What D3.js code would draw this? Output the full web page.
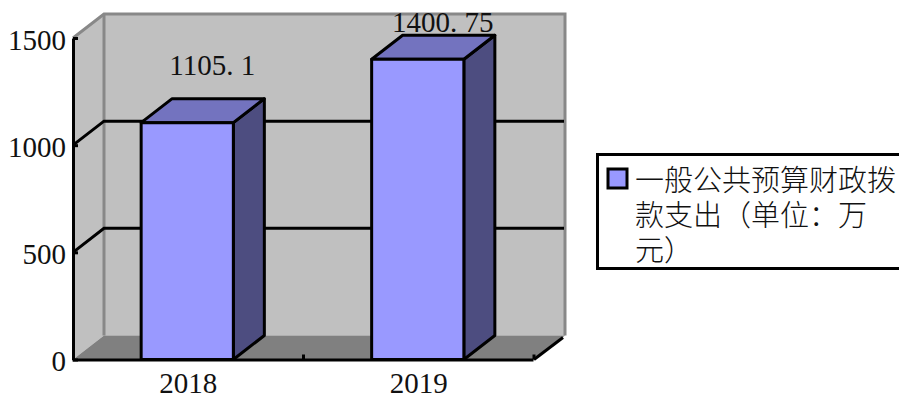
<!DOCTYPE html>
<html>
<head>
<meta charset="utf-8">
<script src="https://cdn.jsdelivr.net/npm/d3@7"></script>
<style>
  html, body { margin: 0; padding: 0; background: #fff; overflow: hidden; }
  svg { display: block; }
  .num { font-family: "Liberation Serif", serif; font-size: 29px; fill: #111; }
  .axis path, .axis line { stroke: #000; stroke-width: 3px; }
</style>
</head>
<body>
<div id="chart"></div>
<script>
const years = ["2018", "2019"];
const spending = [1105.1, 1400.75];
const yTicks = [0, 500, 1000, 1500];
const gridTicks = [500, 1000];
const legendLines = ["一般公共预算财政拨", "款支出（单位：万", "元）"];

const width = 899, height = 394;
const x0 = 73, x1 = 534, yTop = 38, yBase = 359.5;
// 3d offset of the back wall
const dx = 31, dy = -24;

const c = {
  wall: "#c0c0c0", floor: "#808080", edge: "#888888",
  front: "#9999ff", roof: "#7373bf", side: "#4d4d80"
};

const svg = d3.select("#chart").append("svg")
  .attr("width", width)
  .attr("height", height);

const x = d3.scaleBand().domain(years).range([x0 - 1, x1 - 1])
  .paddingInner(0.6).paddingOuter(0.3);
const y = d3.scaleLinear().domain([0, 1500]).range([yBase, yTop]);

const pts = a => a.map(p => p.join(",")).join(" ");

// walls and floor
svg.append("polygon").attr("fill", c.wall).attr("points", pts([
  [x0, yBase], [x0 + dx, yBase + dy], [x0 + dx, yTop + dy], [x0, yTop]
]));
svg.append("rect").attr("fill", c.wall)
  .attr("x", x0 + dx).attr("y", yTop + dy)
  .attr("width", x1 - x0).attr("height", yBase - yTop);
svg.append("polygon").attr("fill", c.floor).attr("points", pts([
  [x0, yBase], [x0 + dx, yBase + dy], [x1 + dx, yBase + dy], [x1, yBase]
]));
svg.append("polyline").attr("fill", "none")
  .attr("stroke", c.edge).attr("stroke-width", 3)
  .attr("points", pts([
    [x0, yTop], [x0 + dx, yTop + dy], [x1 + dx, yTop + dy], [x1 + dx, yBase + dy]
  ]));
svg.append("line").attr("stroke", c.edge).attr("stroke-width", 3)
  .attr("x1", x0 + dx).attr("x2", x0 + dx)
  .attr("y1", yTop + dy).attr("y2", yBase + dy);

// gridlines bend round the corner of the wall
svg.selectAll(".grid").data(gridTicks).join("polyline")
  .attr("class", "grid")
  .attr("fill", "none").attr("stroke", "#000").attr("stroke-width", 3)
  .attr("points", d => pts([
    [x0, y(d)], [x0 + dx, y(d) + dy], [x1 + dx - 1, y(d) + dy]
  ]));
svg.append("line").attr("stroke", "#000").attr("stroke-width", 3)
  .attr("x1", x1).attr("y1", yBase)
  .attr("x2", x1 + dx - 2).attr("y2", yBase + dy + 2);

// bars
const bars = svg.selectAll(".bar")
  .data(years.map((year, i) => ({ year, value: spending[i] })))
  .join("g").attr("class", "bar")
  .attr("stroke", "#000").attr("stroke-width", 3).attr("stroke-linejoin", "round");

bars.append("polygon").attr("fill", c.side).attr("points", d => {
  const r = x(d.year) + x.bandwidth();
  return pts([[r, yBase], [r + dx, yBase + dy], [r + dx, y(d.value) + dy], [r, y(d.value)]]);
});
bars.append("polygon").attr("fill", c.roof).attr("points", d => {
  const l = x(d.year), r = l + x.bandwidth(), t = y(d.value);
  return pts([[l, t], [l + dx, t + dy], [r + dx, t + dy], [r, t]]);
});
bars.append("rect").attr("fill", c.front)
  .attr("x", d => x(d.year)).attr("y", d => y(d.value))
  .attr("width", x.bandwidth()).attr("height", d => yBase - y(d.value));

// data labels, the tall one is pushed against the top of the plot
bars.append("text").attr("class", "num")
  .attr("stroke", "none")
  .attr("text-anchor", "middle")
  .attr("x", d => x(d.year) + x.bandwidth() / 2 + 25)
  .attr("y", d => Math.max(y(d.value) - 48, 32))
  .text(d => String(d.value).replace(".", ". "));

// axes
const yAxis = svg.append("g").attr("class", "axis")
  .attr("transform", `translate(${x0},0)`)
  .call(d3.axisLeft(y).tickValues(yTicks).tickFormat(d3.format("d"))
    .tickSize(-5).tickSizeOuter(0).tickPadding(7));
yAxis.selectAll("text").attr("dy", "0.38em");
const xAxis = svg.append("g").attr("class", "axis")
  .attr("transform", `translate(1,${yBase})`)
  .call(d3.axisBottom(x).tickSize(0).tickPadding(13));
xAxis.select(".domain").attr("transform", "translate(-1,0)");
svg.selectAll(".axis text").attr("class", "num");
svg.selectAll(".axis").attr("font-family", null).attr("font-size", null);

// x ticks sit between the categories, not on them
const gap = x.step() * x.paddingInner() / 2;
const xEdges = [x(years[1]) - gap, x1 - 1];
xAxis.selectAll(".edge").data(xEdges).join("line")
  .attr("class", "edge")
  .attr("x1", d => d).attr("x2", d => d)
  .attr("y1", 0).attr("y2", -5);

// legend, runs off the right side of the picture
const legend = svg.append("g");
legend.append("rect")
  .attr("x", 597.5).attr("y", 154.5)
  .attr("width", 330).attr("height", 114)
  .attr("fill", "#fff").attr("stroke", "#000").attr("stroke-width", 3);
legend.append("rect")
  .attr("x", 608).attr("y", 169)
  .attr("width", 19).attr("height", 19)
  .attr("fill", c.front).attr("stroke", "#000").attr("stroke-width", 3);
legend.selectAll("text").data(legendLines).join("text")
  .attr("x", 635)
  .attr("y", (d, i) => 191 + i * 35)
  .attr("font-family", "'Noto Sans CJK SC', sans-serif")
  .attr("font-size", 29)
  .attr("font-weight", 300)
  .attr("fill", "#111")
  .text(d => d);
</script>
</body>
</html>
